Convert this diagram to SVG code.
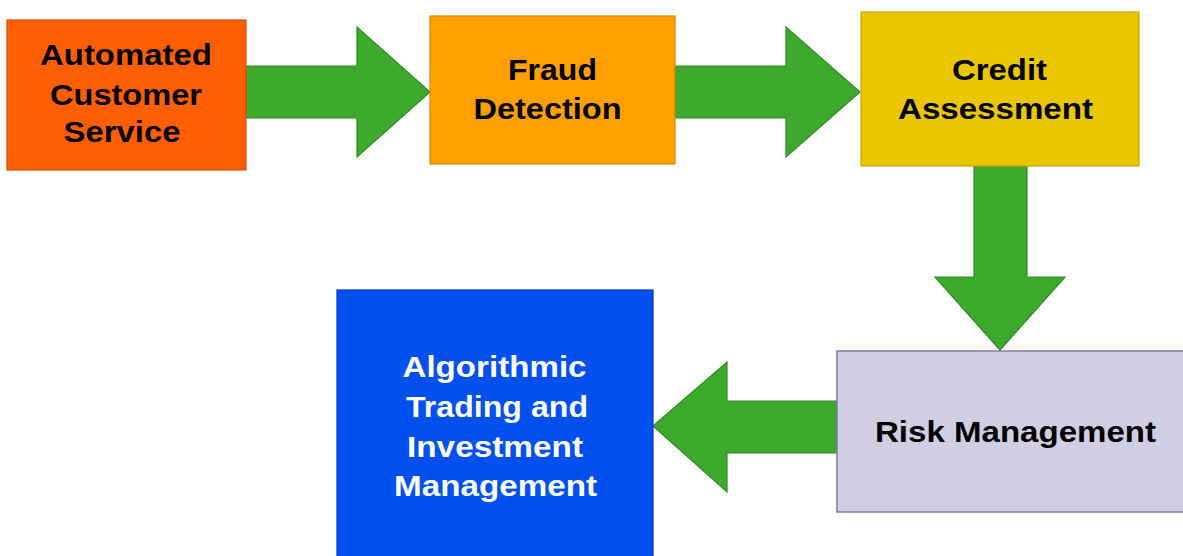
<svg xmlns="http://www.w3.org/2000/svg" width="1183" height="556" viewBox="0 0 1183 556">
<style>
.t{font-family:"Liberation Sans",Arial,sans-serif;font-weight:bold;font-size:30px;text-anchor:middle;fill:#000}
.w{fill:#fff}
.arr{fill:#3DAA2D;stroke:#2E8C20;stroke-width:1.2;stroke-linejoin:miter}
</style>
<rect width="1183" height="556" fill="#fff"/>
<g id="connectors">
<polygon class="arr" points="246,66 357,66 357,27 430,92 357,157 357,118 246,118"/>
<polygon class="arr" points="675,66 786,66 786,27 860,92 786,157 786,118 675,118"/>
<polygon class="arr" points="974,166 1027,166 1027,277 1065,277 1000,350 935,277 974,277"/>
<polygon class="arr" points="837,401 727,401 727,362 653,426 727,492 727,453 837,453"/>
</g>
<g id="n1">
<rect x="7" y="20" width="239" height="150" fill="#FF5F00" stroke="#E04A10" stroke-width="1.2"/>
<text class="t" x="126" y="65" textLength="172" lengthAdjust="spacingAndGlyphs">Automated</text>
<text class="t" x="126" y="105" textLength="152" lengthAdjust="spacingAndGlyphs">Customer</text>
<text class="t" x="122" y="142" textLength="117" lengthAdjust="spacingAndGlyphs">Service</text>
</g>
<g id="n2">
<rect x="430" y="16" width="245" height="148" fill="#FFA000" stroke="#D88600" stroke-width="1.2"/>
<text class="t" x="552.5" y="80" textLength="89" lengthAdjust="spacingAndGlyphs">Fraud</text>
<text class="t" x="547.5" y="119" textLength="148" lengthAdjust="spacingAndGlyphs">Detection</text>
</g>
<g id="n3">
<rect x="861" y="12" width="278" height="154" fill="#EAC600" stroke="#C8A800" stroke-width="1.2"/>
<text class="t" x="999.5" y="80" textLength="95" lengthAdjust="spacingAndGlyphs">Credit</text>
<text class="t" x="995.5" y="119" textLength="195" lengthAdjust="spacingAndGlyphs">Assessment</text>
</g>
<g id="n4">
<rect x="837" y="351" width="360" height="161" fill="#D0CEE2" stroke="#807CA0" stroke-width="1.5"/>
<text class="t" x="1015.5" y="442" textLength="281" lengthAdjust="spacingAndGlyphs">Risk Management</text>
</g>
<g id="n5">
<rect x="337" y="290" width="316" height="280" fill="#0050EF" stroke="#0030C8" stroke-width="1.2"/>
<text class="t w" x="494.5" y="377" textLength="184" lengthAdjust="spacingAndGlyphs">Algorithmic</text>
<text class="t w" x="497" y="417" textLength="182" lengthAdjust="spacingAndGlyphs">Trading and</text>
<text class="t w" x="495" y="457" textLength="176" lengthAdjust="spacingAndGlyphs">Investment</text>
<text class="t w" x="495.5" y="496" textLength="203" lengthAdjust="spacingAndGlyphs">Management</text>
</g>
</svg>
